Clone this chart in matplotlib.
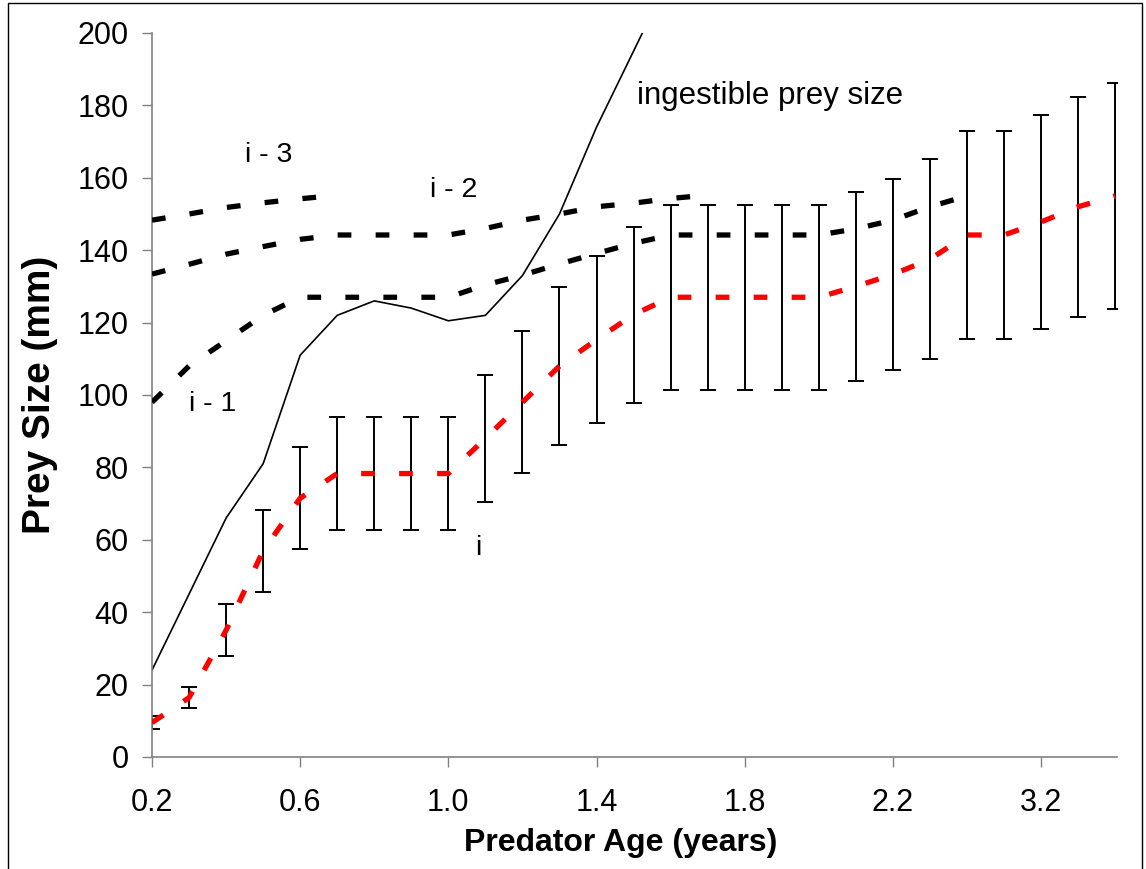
import matplotlib
matplotlib.use("Agg")
import matplotlib.pyplot as plt
from matplotlib.patches import Rectangle
import numpy as np

# ---------------- data ----------------
ages = ['0.2', '0.3', '0.4', '0.5', '0.6', '0.7', '0.8', '0.9', '1.0', '1.1',
        '1.2', '1.3', '1.4', '1.5', '1.6', '1.7', '1.8', '1.9', '2.0', '2.1',
        '2.2', '2.4', '2.6', '2.8', '3.2', '3.6', '4.0']
tick_labels = ['0.2', '0.6', '1.0', '1.4', '1.8', '2.2', '3.2']

# cohort i (mean prey size) and its error (half range of bars)
prey_i = [9.5, 16.4, 35.0, 57.0, 71.5, 78.3, 78.3, 78.3, 78.3, 88.0,
          98.0, 108.0, 115.3, 122.2, 127.0, 127.0, 127.0, 127.0, 127.0, 130.0,
          133.3, 137.5, 144.2, 144.2, 147.8, 152.0, 155.0]
prey_i_err = [1.7, 3.0, 7.2, 11.3, 14.0, 15.7, 15.7, 15.7, 15.7, 17.6,
              19.6, 21.9, 23.0, 24.3, 25.5, 25.5, 25.5, 25.5, 25.5, 26.0,
              26.5, 27.6, 28.7, 28.7, 29.6, 30.4, 31.3]

prey_i1 = [98.0, 108.0, 115.0, 122.0, 127.0, 127.0, 127.0, 127.0, 127.0, 130.4,
           133.1, 136.2, 139.1, 141.9, 144.2, 144.2, 144.2, 144.2, 144.2, 145.9,
           148.3, 152.0, 155.0]
prey_i2 = [133.4, 136.1, 138.9, 141.0, 143.0, 144.2, 144.2, 144.2, 144.2, 146.0,
           148.3, 150.0, 152.0, 153.0, 154.3, 155.2]
prey_i3 = [148.3, 150.0, 151.8, 153.1, 154.2, 155.2]

ingestible = [24.0, 45.0, 66.0, 81.0, 111.0, 122.0, 126.0, 124.0, 120.5, 122.0,
              133.0, 150.0, 174.0, 195.0, 216.0]

# ---------------- figure ----------------
W, H = 1146, 869
fig = plt.figure(figsize=(W / 100, H / 100), dpi=100)
ax = fig.add_axes([152 / W, 1 - 757 / H, (1117 - 152) / W, (757 - 33) / H])

font = ['Liberation Sans', 'DejaVu Sans']

x = np.arange(len(ages))

dash = (0, (2.6, 4.6))
lw_dash = 3.8

ax.errorbar(x, prey_i, yerr=prey_i_err, fmt='none', ecolor='black',
            elinewidth=1.4, capsize=5.8, capthick=1.4, zorder=2)

ax.plot(np.arange(len(ingestible)), ingestible, color='black', lw=1.2, zorder=2)

for series in (prey_i1, prey_i2, prey_i3):
    ax.plot(np.arange(len(series)), series, color='black', lw=lw_dash,
            linestyle=dash, dash_capstyle='butt', zorder=3)

ax.plot(x, prey_i, color='#ff0000', lw=lw_dash, linestyle=dash,
        dash_capstyle='butt', zorder=4)

ax.set_xlim(0, 26.05)
ax.set_ylim(0, 200)

tick_pos = [ages.index(t) for t in tick_labels]
ax.set_xticks(tick_pos)
ax.set_xticklabels(tick_labels, fontfamily=font, fontsize=22)
ax.set_yticks(np.arange(0, 201, 20))
ax.set_yticklabels([str(v) for v in range(0, 201, 20)], fontfamily=font, fontsize=22)

for s in ('top', 'right'):
    ax.spines[s].set_visible(False)
for s in ('left', 'bottom'):
    ax.spines[s].set_color('#808080')
    ax.spines[s].set_linewidth(1.2)
ax.tick_params(axis='both', direction='out', length=7, width=1.0, color='#808080')
ax.tick_params(axis='y', pad=10)
ax.tick_params(axis='x', pad=15)

ax.set_xlabel('Predator Age (years)', fontfamily=font, fontsize=23, fontweight='bold')
ax.set_ylabel('Prey Size (mm)', fontfamily=font, fontsize=28, fontweight='bold')
ax.xaxis.set_label_coords((621 - 152) / 965, (757 - 843) / 724)
ax.xaxis.label.set_va('center')
ax.yaxis.set_label_coords((40 - 152) / 965, (757 - 395) / 724)
ax.yaxis.label.set_va('center')

# annotations
ax.text(3.15, 166.3, 'i - 3', fontfamily=font, fontsize=20.5, ha='center', va='center')
ax.text(8.15, 156.6, 'i - 2', fontfamily=font, fontsize=20.5, ha='center', va='center')
ax.text(1.65, 97.5, 'i - 1', fontfamily=font, fontsize=20.5, ha='center', va='center')
ax.text(8.8, 57.7, 'i', fontfamily=font, fontsize=20.5, ha='center', va='center')
ax.text(13.1, 182.6, 'ingestible prey size', fontfamily=font, fontsize=22.5,
        ha='left', va='center')

# chart-area border
fig.patches.append(Rectangle((8 / W, -0.01), (1142 - 8) / W, 1 - 3 / H + 0.01,
                             transform=fig.transFigure, fill=False,
                             edgecolor='black', lw=1.0))

fig.savefig('out.png', dpi=100)
